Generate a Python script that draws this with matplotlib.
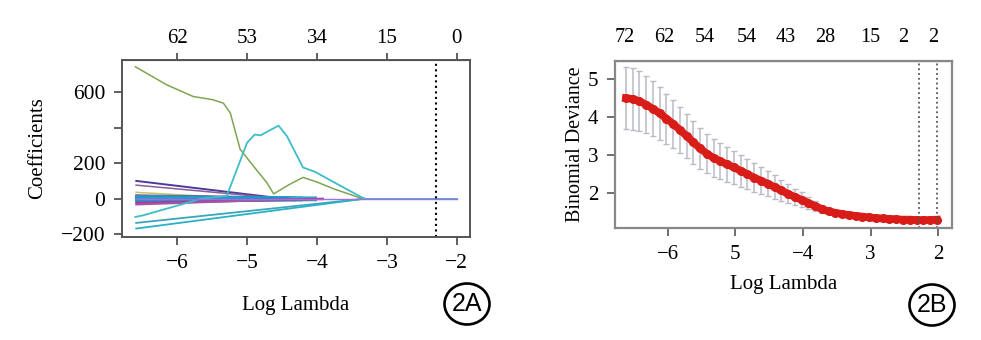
# LASSO coefficient paths (2A) and cross-validated deviance (2B)
import matplotlib.pyplot as plt
from matplotlib.patches import Ellipse

plt.rcParams['font.family'] = ['Liberation Serif', 'DejaVu Serif']

# ---- panel A: coefficient paths ----
green_x = [-6.6, -6.15, -5.77, -5.5, -5.34, -5.24, -5.1, -4.9, -4.72, -4.62, -4.4, -4.2, -4.0, -3.75, -3.48, -3.34, -2.0]
green_y = [745, 643, 577, 560, 540, 484, 280, 180, 93, 28, 80, 121, 95, 55, 19, 0, 0]

cyan_x = [-6.6, -6.49, -5.91, -5.67, -5.4, -5.29, -5.0, -4.89, -4.81, -4.55, -4.43, -4.2, -4.03, -3.67, -3.36, -3.3, -2.0]
cyan_y = [-102, -93, -28, 0, 12, 18, 317, 363, 358, 413, 354, 177, 153, 75, 9, 0, 0]

line_start = [102, 78, 37, 14, 9, 5, 2, -3, -7, -11, -24, -32, -136, -168]
line_zero = [-4.45, -4.45, -4.9, -4.4, -4.2, -4.6, -4.0, -4.3, -4.0, -4.4, -3.9, -4.2, -3.34, -3.34]
line_colors = ['#4a3c9c', '#8c5c98', '#c4c46a', '#d0207a', '#1e90c8', '#2aa0c0', '#1e90c8',
               '#1e90c8', '#2ab0c0', '#1e90c8', '#c0309a', '#9a5aa8', '#3aa6b8', '#2ab0c8']
line_widths = [1.4, 1.1, 1.1, 3.0, 3.5, 3.5, 3.0, 3.5, 3.5, 3.0, 1.8, 1.4, 1.3, 1.3]

top_a_pos = [-6, -5, -4, -3, -2]
top_a_lab = ['62', '53', '34', '15', '0']
bot_a_lab = ['\u22126', '\u22125', '\u22124', '\u22123', '\u22122']
lam_min_a = -2.29

# ---- panel B: binomial deviance ----
log_lam = [-6.62, -6.52, -6.42, -6.32, -6.22, -6.12, -6.02, -5.92, -5.82, -5.72,
           -5.62, -5.52, -5.42, -5.32, -5.22, -5.12, -5.02, -4.92, -4.82, -4.72,
           -4.62, -4.52, -4.42, -4.32, -4.22, -4.12, -4.02, -3.92, -3.82, -3.72,
           -3.62, -3.52, -3.42, -3.32, -3.22, -3.12, -3.02, -2.92, -2.82, -2.72,
           -2.62, -2.52, -2.42, -2.32, -2.22, -2.12, -2.02]
dev_mean = [4.50, 4.48, 4.42, 4.33, 4.22, 4.10, 3.96, 3.82, 3.66, 3.50,
            3.33, 3.17, 3.03, 2.92, 2.83, 2.75, 2.67, 2.58, 2.49, 2.40,
            2.32, 2.24, 2.15, 2.06, 1.97, 1.89, 1.81, 1.73, 1.65, 1.57,
            1.51, 1.47, 1.44, 1.41, 1.39, 1.37, 1.35, 1.33, 1.32, 1.31,
            1.30, 1.29, 1.29, 1.28, 1.28, 1.28, 1.29]
dev_sd = [0.82, 0.81, 0.79, 0.76, 0.73, 0.70, 0.66, 0.63, 0.60, 0.58,
          0.56, 0.54, 0.52, 0.50, 0.48, 0.46, 0.44, 0.42, 0.40, 0.38,
          0.36, 0.33, 0.31, 0.28, 0.25, 0.22, 0.20, 0.17, 0.14, 0.11,
          0.08, 0.06, 0.05, 0.04, 0.04, 0.04, 0.03, 0.03, 0.03, 0.03,
          0.03, 0.03, 0.03, 0.03, 0.03, 0.03, 0.03]

top_b_pos = [-6.64, -6.05, -5.45, -4.83, -4.25, -3.67, -3.01, -2.52, -2.08]
top_b_lab = ['72', '62', '54', '54', '43', '28', '15', '2', '2']
bot_b_pos = [-6, -5, -4, -3, -2]
bot_b_lab = ['\u22126', '5', '\u22124', '3', '2']
lam_lines_b = [-2.29, -2.02]


def circled(fig, cx, cy, text):
    w, h = 981, 340
    fig.patches.append(Ellipse((cx / w, 1 - cy / h), 45 / w, 41 / h, transform=fig.transFigure,
                               fill=False, lw=1.9, color='black'))
    fig.text(cx / w, 1 - cy / h, text, ha='center', va='center', fontsize=18,
             family=['Liberation Sans', 'DejaVu Sans'])


def main():
    fig = plt.figure(figsize=(9.81, 3.4), dpi=100)

    # panel A
    ax = fig.add_axes([0.1244, 0.3029, 0.3547, 0.5206])
    for s, z, c, lw in zip(line_start, line_zero, line_colors, line_widths):
        ax.plot([-6.6, z], [s, 0], color=c, lw=lw, solid_capstyle='butt')
    ax.plot(green_x, green_y, color='#7fa552', lw=1.1)
    ax.plot(cyan_x, cyan_y, color='#40bcc8', lw=1.3)
    ax.plot([-6.6, -2.0], [0, 0], color='#a070e0', lw=1.0)
    ax.axvline(lam_min_a, color='black', ls=':', lw=1.5)
    ax.set_xlim(-6.79, -1.81)
    ax.set_ylim(-215, 783)
    ax.set_xticks(top_a_pos, bot_a_lab)
    ax.set_yticks([-200, 0, 200, 400, 600], ['\u2212200', '0', '200', '', '600'])
    ax.tick_params(labelsize=15.5, length=6, width=1.2, color='#444444', pad=6)
    ax.set_xlabel('Log Lambda', fontsize=15, labelpad=17)
    ax.set_ylabel('Coefficients', fontsize=15, labelpad=10)
    for sp in ax.spines.values():
        sp.set_color('#555555')
        sp.set_linewidth(1.4)
    top = ax.secondary_xaxis('top')
    top.set_xticks(top_a_pos, top_a_lab)
    top.tick_params(labelsize=15, length=5, width=1.2, color='#444444', pad=4)

    # panel B
    bx = fig.add_axes([0.6269, 0.3285, 0.3432, 0.493])
    bx.errorbar(log_lam, dev_mean, yerr=dev_sd, fmt='none', ecolor='#b8bcc8',
                elinewidth=1.1, capsize=2.5, capthick=1.0)
    bx.plot(log_lam, dev_mean, color='#e0201c', lw=5.5)
    bx.plot(log_lam, dev_mean, 'o', color='#d81c18', ms=5.5)
    for v in lam_lines_b:
        bx.axvline(v, color='#555555', ls=':', lw=1.3)
    bx.set_xlim(-6.78, -1.80)
    bx.set_ylim(1.06, 5.49)
    bx.set_xticks(bot_b_pos, bot_b_lab)
    bx.set_yticks([2, 3, 4, 5])
    bx.tick_params(labelsize=15, length=6, width=1.2, color='#555555', pad=6)
    bx.set_xlabel('Log Lambda', fontsize=15, labelpad=8)
    bx.set_ylabel('Binomial Deviance', fontsize=14.5, labelpad=2)
    for sp in bx.spines.values():
        sp.set_color('#888888')
        sp.set_linewidth(1.6)
    topb = bx.secondary_xaxis('top')
    topb.set_xticks(top_b_pos, top_b_lab)
    topb.tick_params(labelsize=14.5, length=0, pad=10)

    circled(fig, 467, 304, '2A')
    circled(fig, 932, 305, '2B')

    fig.savefig('out.png', dpi=100)


if __name__ == "__main__": main()
